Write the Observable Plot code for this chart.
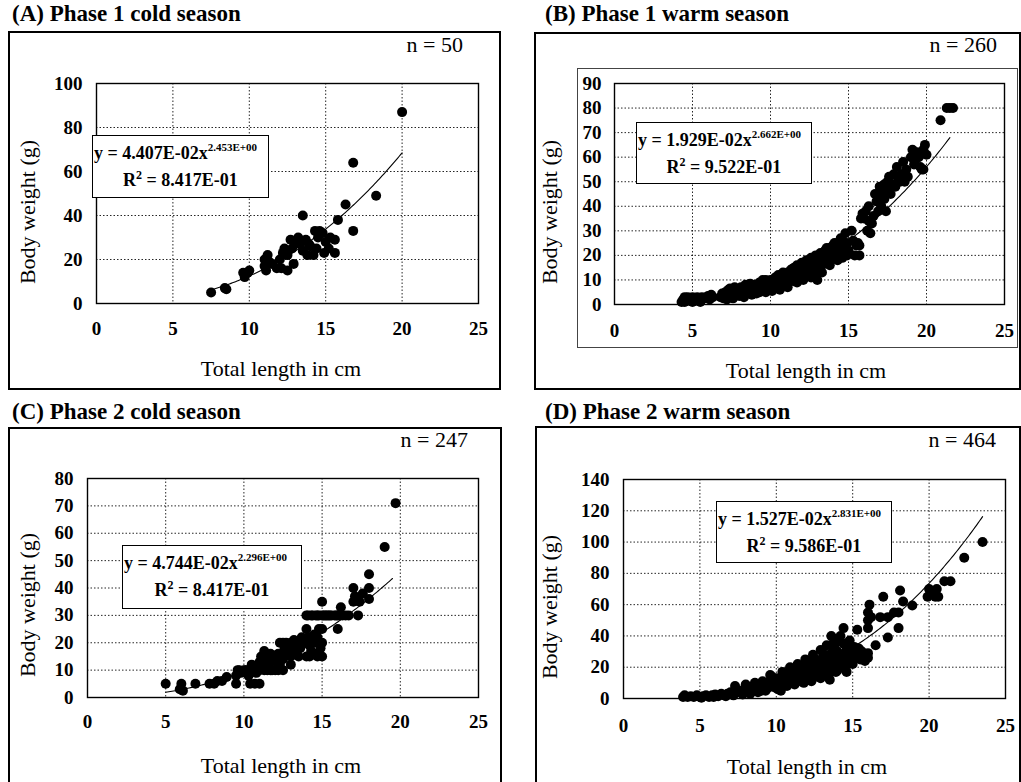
<!DOCTYPE html>
<html>
<head>
<meta charset="utf-8">
<script src="https://cdn.jsdelivr.net/npm/d3@7"></script>
<script src="https://cdn.jsdelivr.net/npm/@observablehq/plot@0.6"></script>
<style>
  html, body { margin: 0; padding: 0; background: #fff; }
  #root { position: relative; width: 1021px; height: 782px; overflow: hidden; background: #fff;
          font-family: "Liberation Serif", "Times New Roman", serif; color: #000; }
  .abs { position: absolute; }
  .box { position: absolute; border: 2px solid #000; box-sizing: border-box; }
  .title { position: absolute; font-weight: bold; font-size: 23px; line-height: 24px; white-space: nowrap; }
  .nlab { position: absolute; font-size: 22px; line-height: 22px; white-space: nowrap; text-align: right; }
  .axt { position: absolute; font-size: 22px; line-height: 24px; white-space: nowrap; }
  .eq { position: absolute; border: 1.5px solid #000; background: #fff; box-sizing: border-box;
        font-size: 18px; font-weight: bold; text-align: center; line-height: 27px; padding-top: 4px; white-space: nowrap; }
  .eq .l1 { text-align: left; padding-left: 1px; }
  .eq sup { font-size: 11px; vertical-align: 8px; line-height: 0; }
  .eq .r2 sup { font-size: 12px; vertical-align: 7px; }
</style>
</head>
<body>
<div id="root"></div>
<script>
// ---------- data ----------
const panelTitles = ["(A) Phase 1 cold season", "(B) Phase 1 warm season", "(C) Phase 2 cold season", "(D) Phase 2 warm season"];
const sampleSizes = [50, 260, 247, 464];
const fitA = [4.407e-2, 2.453]; // y = a * x^b
const fitB = [1.929e-2, 2.662];
const fitC = [4.744e-2, 2.296];
const fitD = [1.527e-2, 2.831];
const fitRanges = [[7.5, 20.0], [4.3, 21.5], [5.0, 19.5], [4.0, 23.5]];
const eqTexts = [["4.407E-02", "2.453E+00", "8.417E-01"], ["1.929E-02", "2.662E+00", "9.522E-01"],
                 ["4.744E-02", "2.296E+00", "8.417E-01"], ["1.527E-02", "2.831E+00", "9.586E-01"]];
const xTicks = [0, 5, 10, 15, 20, 25];
const yTicksA = [0, 20, 40, 60, 80, 100];
const yTicksB = [0, 10, 20, 30, 40, 50, 60, 70, 80, 90];
const yTicksC = [0, 10, 20, 30, 40, 50, 60, 70, 80];
const yTicksD = [0, 20, 40, 60, 80, 100, 120, 140];

// [total length cm, body weight g]
const ptsA = [[7.5,5],[8.5,6.5],[8.4,7],[9.6,14],[9.9,14],[10.0,15],[9.7,12],[11.0,17],[11.0,20],[11.2,22],
  [11.3,19],[11.1,15],[11.5,18],[11.8,16],[12.0,20],[12.2,23],[12.3,25],[12.1,16],[12.5,15],[12.5,22],
  [12.8,25],[12.7,29],[13.0,28],[13.2,30],[13.3,27],[13.5,24],[13.5,40],[13.8,22],[13.7,29],[14.0,26],
  [14.2,22],[14.5,30],[14.6,33],[14.4,25],[14.8,32],[14.3,33],[15.0,28],[15.3,30],[15.6,29],[14.9,23],
  [15.2,25],[15.6,23],[15.8,38],[16.3,45],[16.8,64],[16.8,33],[18.3,49],[20.0,87],[12.9,18],[13.9,27]];

const ptsB = [[4.3,1],[4.4,2],[4.5,3],[4.5,1],[4.6,2],[4.7,3],[4.8,1.5],[4.9,2.5],[5.0,1],[5.0,3],[5.1,2],
  [5.2,1.5],[5.3,3],[5.5,2],[5.6,3],[5.8,2.5],[6.0,3.5],[6.2,4],[6.3,3],[6.8,3],[6.9,4.5],[7.0,2.5],
  [7.1,5],[7.2,3.5],[7.3,6],[7.4,4],[7.5,3],[7.6,5],[7.7,7],[7.8,4],[7.9,6],[8.0,3.5],[8.0,5],[8.1,7],
  [8.2,4.5],[8.3,6],[8.4,8],[8.5,5],[8.6,6.5],[8.7,4.5],[8.8,7],[8.9,5.5],[9.0,8],[9.0,6],[9.1,4.5],
  [9.2,7],[9.3,9],[9.4,6],[9.5,8],[9.5,5.5],[9.6,7],[9.7,10],[9.8,6.5],[9.9,8.5],[10.0,7],[10.0,10],
  [10.1,5.5],[10.2,9],[10.3,11],[10.4,7.5],[10.5,9],[10.5,12],[10.6,8],[10.7,10],[10.8,13],[10.9,9],
  [11.0,11],[11.0,8],[11.1,13],[11.2,10],[11.3,14],[11.4,12],[11.5,9.5],[11.5,15],[11.6,12],[11.7,16],
  [11.8,11],[11.9,14],[12.0,13],[12.0,17],[12.1,10],[12.2,15],[12.3,18],[12.4,12],[12.5,16],[12.6,11],
  [12.6,19],[12.7,14],[12.8,17],[12.9,20],[13.0,10],[13.0,15],[13.1,18],[13.2,21],[13.3,16],[13.4,19],
  [13.5,22],[13.6,18],[13.7,20],[13.8,23],[13.9,21],[14.0,19],[14.0,24],[14.2,22],[14.3,25],[14.4,21],
  [14.5,23],[14.6,26],[14.7,24],[14.8,29],[14.9,25],[15.0,22],[15.2,30],[15.3,26],[15.4,20],[15.5,24],
  [15.6,25],[15.7,20],[15.8,35],[15.9,37],[16.0,35],[16.1,38],[16.2,30],[16.3,40],[16.4,29],[16.5,33],
  [16.6,36],[16.7,45],[16.8,42],[16.9,38],[17.0,44],[17.0,48],[17.1,40],[17.2,46],[17.3,43],[17.4,38],
  [17.5,50],[17.5,47],[17.6,52],[17.7,45],[17.8,49],[17.9,53],[18.0,48],[18.1,56],[18.2,51],[18.3,50],
  [18.5,58],[18.6,50],[18.7,55],[19.0,60],[19.1,63],[19.3,59],[19.4,62],[19.5,60],[19.6,56],[19.7,55],
  [19.8,55],[19.9,65],[20.0,61],[20.9,75],[21.3,80],[21.5,80],[21.7,80],
  [5.5,1],[6.1,2],[7.2,2],[7.6,2.5],[8.3,3],[8.8,4],[9.3,5],[9.7,5],[10.2,6.5],[10.6,6],[11.1,7],[11.7,9],
  [12.2,11.5],[12.8,12],[13.3,13],[13.8,16],[14.3,18],[14.9,20],[14.6,19],[10.8,11],[11.4,14.5],[12.4,16.5],
  [13.1,20],[13.6,23],[14.1,25],[14.5,27],[15.7,24],[16.3,34],[16.9,45],[17.3,49],[18.4,53],[18.8,52],
  [19.2,57],[19.8,63],[8.7,8.5],[9.5,10],[7.4,6.5]];

const ptsC = [[5.0,5],[5.9,3],[6.0,5],[6.1,2.5],[6.9,5],[7.8,5],[8.1,5],[8.3,6],[8.6,6],[8.9,7.5],[9.5,5],
  [9.5,8],[9.6,10],[9.8,9],[10.0,10],[10.2,10],[10.3,8],[10.4,5],[10.5,10],[10.6,11],[10.7,5],[10.8,9],
  [11.0,5],[11.0,10],[11.0,13],[11.1,15],[11.2,11],[11.3,17],[11.4,14],[11.5,10],[11.5,15],[11.6,12],
  [11.7,16],[11.8,10],[11.9,14],[12.0,10],[12.0,15],[12.1,13],[12.2,16],[12.3,12],[12.4,15],[12.5,14],
  [12.5,20],[12.6,18],[12.7,16],[12.8,19],[12.9,17],[13.0,12],[13.0,15],[13.0,20],[13.1,18],[13.2,21],
  [13.3,17],[13.4,19],[13.5,20],[13.6,18],[13.7,22],[13.8,20],[14.0,15],[14.0,25],[14.0,30],[14.1,22],
  [14.2,19],[14.3,17],[14.4,30],[14.5,16],[14.5,20],[14.5,23],[14.6,30],[14.7,22],[14.8,25],[14.8,30],
  [14.9,18],[15.0,15],[15.0,20],[15.0,25],[15.0,30],[15.0,35],[15.2,30],[15.4,30],[15.6,30],[15.8,30],
  [16.0,25],[16.0,30],[16.2,33],[16.3,30],[16.5,30],[17.0,35],[17.0,40],[17.1,37],[17.3,30],[17.4,35],
  [17.6,38],[18.0,36],[18.0,40],[18.0,45],[19.0,55],[19.7,71],
  [9.7,10],[10.1,10],[10.9,10],[11.3,10],[11.7,10],[12.2,10],[12.5,10],[12.3,20],[12.7,20],[13.3,20],
  [13.9,20],[14.3,20],[14.7,20],[12.5,15],[13.5,15],[14.2,15],[14.7,15],[11.8,15],[11.3,12],[10.5,12],
  [14.1,30],[14.3,30],[14.7,30],[15.1,30],[15.3,30],[16.7,30],[16.1,30],[15.9,30],[15.5,30]];

const ptsD = [[3.9,1],[4.0,2],[4.2,1],[4.4,1.5],[4.6,1],[4.8,2],[5.0,1],[5.2,1.5],[5.4,2],[5.6,1],[5.8,2],
  [6.0,2.5],[6.2,1.5],[6.4,3],[6.6,2],[6.8,3],[7.0,4],[7.1,2.5],[7.3,8],[7.4,4],[7.5,5],[7.7,3.5],[7.9,6],
  [8.0,4],[8.2,7],[8.4,5],[8.5,8],[8.7,6],[8.9,9],[9.0,5],[9.2,8],[9.4,10],[9.5,7],[9.6,15],[9.7,11],
  [9.8,8],[10.0,10],[10.0,13],[10.1,6],[10.2,12],[10.4,9],[10.5,15],[10.6,11],[10.8,14],[10.9,10],
  [11.0,17],[11.1,12],[11.2,15],[11.3,19],[11.4,13],[11.5,16],[11.6,11],[11.7,20],[11.8,15],[11.9,18],
  [12.0,13],[12.0,22],[12.1,17],[12.2,20],[12.3,15],[12.4,23],[12.5,18],[12.6,25],[12.6,14],[12.7,21],
  [12.8,17],[12.9,31],[13.0,24],[13.0,19],[13.1,27],[13.2,22],[13.3,16],[13.4,26],[13.5,20],[13.6,29],
  [13.6,40],[13.7,23],[13.8,33],[13.9,25],[14.0,18],[14.0,30],[14.1,37],[14.2,22],[14.3,28],[14.4,35],
  [14.4,45],[14.5,24],[14.6,31],[14.7,27],[14.8,33],[14.9,25],[15.0,30],[15.3,44],[15.3,27],[15.5,25],
  [15.6,30],[15.7,28],[15.8,24],[16.0,26],[16.0,29],[16.0,45],[16.0,50],[16.0,55],[16.1,60],[16.2,52],
  [16.5,34],[17.0,65],[16.8,52],[17.3,52],[17.7,55],[17.3,39],[18.0,45],[18.0,55],[18.1,69],[18.3,62],
  [18.9,59.5],[19.9,65],[20.0,70],[20.2,67],[20.4,65],[20.5,70],[20.6,65],[21.0,75],[21.4,75],[22.3,90],
  [23.5,100],
  [5.1,0.5],[5.9,1],[6.7,1.5],[7.2,2],[7.8,2.5],[8.3,3],[8.8,4],[9.3,5],[9.9,7],[10.3,5],[10.7,8],[11.2,9],
  [11.8,10],[12.3,11],[12.9,13],[13.4,15],[13.9,17],[14.4,20],[14.7,22],[10.4,17],[10.9,20],[11.4,22],
  [11.9,25],[12.4,28],[13.0,30],[13.3,34],[13.7,35],[14.2,40],[14.8,37],[15.1,33],[15.4,32],[8.0,9],
  [8.6,10],[9.1,11],[9.7,14],[14.6,17],[15.0,22],[13.5,12]];

// ---------- layout ----------
const FONT = '"Liberation Serif", "Times New Roman", serif';
const root = document.getElementById("root");

function el(cls, style, html) {
  const d = document.createElement("div");
  d.className = cls;
  Object.assign(d.style, style);
  if (html !== undefined) d.innerHTML = html;
  root.appendChild(d);
  return d;
}

const panels = [
  { pts: ptsA, fit: fitA, yTicks: yTicksA, frame: [96, 83, 478, 303], padY: 14, padX: 20,
    box: [8, 31, 501, 390], title: [12, 2], n: [463, 34], ytitle: [28, 212], xtitle: [281, 369], eq: [92, 135, 177, 63] },
  { pts: ptsB, fit: fitB, yTicks: yTicksB, frame: [614, 83, 1004, 304], padY: 13, padX: 21,
    box: [534, 32, 1021, 390], title: [545, 2], n: [997, 34], ytitle: [550, 212], xtitle: [806, 371], eq: [636, 122, 176, 62] },
  { pts: ptsC, fit: fitC, yTicks: yTicksC, frame: [87, 478, 478, 697], padY: 14, padX: 19,
    box: [8, 427, 502, 790], title: [12, 400], n: [468, 429], ytitle: [28, 605], xtitle: [281, 766], eq: [122, 545, 180, 64] },
  { pts: ptsD, fit: fitD, yTicks: yTicksD, frame: [623, 479, 1005, 698], padY: 14, padX: 22,
    box: [535, 426, 1021, 790], title: [545, 400], n: [996, 429], ytitle: [550, 607], xtitle: [807, 767], eq: [716, 501, 176, 62] }
];

panels.forEach((p, i) => {
  el("box", { left: p.box[0] + "px", top: p.box[1] + "px", width: (p.box[2] - p.box[0]) + "px", height: (p.box[3] - p.box[1]) + "px" });
  el("title", { left: p.title[0] + "px", top: p.title[1] + "px" }, panelTitles[i]);
  el("nlab", { right: (1021 - p.n[0]) + "px", top: p.n[1] + "px" }, "n = " + sampleSizes[i]);
  el("axt", { left: p.ytitle[0] + "px", top: p.ytitle[1] + "px", transform: "translate(-50%,-50%) rotate(-90deg)" }, "Body weight (g)");
  el("axt", { left: p.xtitle[0] + "px", top: p.xtitle[1] + "px", transform: "translate(-50%,-50%)" }, "Total length in cm");
});

// inner chart-area border of panel B
el("abs", { left: "577px", top: "68px", width: "441px", height: "280px", border: "1px solid #444", boxSizing: "border-box" });

panels.forEach((p, i) => {
  const [x0, y0, x1, y1] = p.frame;
  const mL = 50, mR = 20, mT = 12, mB = 40;
  const yMax = p.yTicks[p.yTicks.length - 1];
  const data = p.pts.map(([x, y]) => ({ x, y }));
  const [lo, hi] = fitRanges[i];
  const curve = d3.range(lo, hi + 1e-9, 0.1).map(x => ({ x, y: p.fit[0] * Math.pow(x, p.fit[1]) }));
  const chart = Plot.plot({
    width: x1 - x0 + mL + mR,
    height: y1 - y0 + mT + mB,
    marginLeft: mL, marginRight: mR, marginTop: mT, marginBottom: mB,
    style: { fontFamily: FONT, fontSize: "19px", fontWeight: "bold", background: "transparent", overflow: "visible", color: "#000" },
    x: { domain: [0, 25] },
    y: { domain: [0, yMax] },
    marks: [
      Plot.gridX(xTicks.slice(1, -1), { stroke: "#000", strokeOpacity: 0.85, strokeWidth: 1, strokeDasharray: "1.5,2" }),
      Plot.gridY(p.yTicks.slice(1, -1), { stroke: "#000", strokeOpacity: 0.85, strokeWidth: 1, strokeDasharray: "1.5,2" }),
      Plot.frame({ stroke: "#000", strokeWidth: 1.4 }),
      Plot.axisX(xTicks, { tickSize: 0, tickPadding: p.padX - 2, label: null, fontWeight: "bold" }),
      Plot.axisY(p.yTicks, { tickSize: 0, tickPadding: p.padY, label: null, fontWeight: "bold" }),
      Plot.dot(data, { x: "x", y: "y", r: 5, fill: "#000", stroke: "none" }),
      Plot.line(curve, { x: "x", y: "y", stroke: "#000", strokeWidth: 1.1 })
    ]
  });
  chart.style.position = "absolute";
  chart.style.left = (x0 - mL) + "px";
  chart.style.top = (y0 - mT) + "px";
  root.appendChild(chart);
});

// equation boxes (on top)
panels.forEach((p, i) => {
  const [l, t, w, h] = p.eq;
  const [a, b, r2] = eqTexts[i];
  el("eq", { left: l + "px", top: t + "px", width: w + "px", height: h + "px" },
    `<div class="l1">y = ${a}x<sup>${b}</sup></div><div class="r2">R<sup>2</sup> = ${r2}</div>`);
});
</script>
</body>
</html>
